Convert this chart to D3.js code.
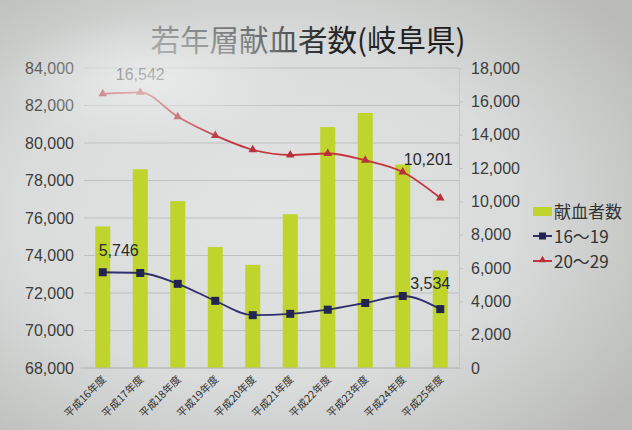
<!DOCTYPE html>
<html><head><meta charset="utf-8">
<script src="https://cdn.jsdelivr.net/npm/d3@7"></script>
<style>
html,body{margin:0;padding:0;background:#d3d6d5;}
svg{display:block;}
</style></head>
<body>
<svg id="c" width="632" height="430"></svg>
<script>
const categories = ["平成16年度","平成17年度","平成18年度","平成19年度","平成20年度","平成21年度","平成22年度","平成23年度","平成24年度","平成25年度"];
const donors = [75550, 78600, 76900, 74450, 73500, 76200, 80850, 81600, 78850, 73200];
const teen = [5746, 5700, 5050, 4030, 3170, 3250, 3500, 3900, 4320, 3534];
const twenties = [16450, 16542, 15080, 13950, 13090, 12780, 12870, 12460, 11760, 10201];
const leftTicks = [68000,70000,72000,74000,76000,78000,80000,82000,84000];
const rightTicks = [0,2000,4000,6000,8000,10000,12000,14000,16000,18000];
const seriesNames = ["献血者数","16～19","20～29"];
const title = "若年層献血者数(岐阜県)";

const svg = d3.select("#c");
const W = 632, H = 430;
const fmt = d3.format(",");
const numFont = "'Liberation Sans', Arial, sans-serif";
const cjkFont = "'Noto Sans CJK JP', sans-serif";

// background (photo-like vignette)
const defs = svg.append("defs");
const bg = defs.append("radialGradient").attr("id","bg").attr("cx","0.42").attr("cy","0.5").attr("r","0.72");
bg.append("stop").attr("offset","0").attr("stop-color","#e1e4e3");
bg.append("stop").attr("offset","0.55").attr("stop-color","#d9dcdb");
bg.append("stop").attr("offset","1").attr("stop-color","#babbb8");
svg.append("rect").attr("width",W).attr("height",H).attr("fill","url(#bg)");

const x = d3.scaleBand().domain(categories).range([84,459]).paddingInner(0.6).paddingOuter(0.3);
const yL = d3.scaleLinear().domain([68000,84000]).range([368,68]);
const yR = d3.scaleLinear().domain([0,18000]).range([368,68]);
const cx = d => x(d) + x.bandwidth()/2;

// gridlines
svg.append("g").selectAll("line").data(leftTicks).join("line")
  .attr("x1",84).attr("x2",459).attr("y1",d=>yL(d)).attr("y2",d=>yL(d))
  .attr("stroke","#bcc0bf").attr("stroke-width",1);

// left axis
const axL = svg.append("g").attr("transform","translate(84,0)")
  .call(d3.axisLeft(yL).tickValues(leftTicks).tickFormat(fmt).tickSize(0).tickPadding(10));
axL.select(".domain").remove();
axL.selectAll("text").attr("font-family",numFont).attr("font-size",16).attr("fill","#3c3c3c");

// right axis
const axR = svg.append("g").attr("transform","translate(459,0)")
  .call(d3.axisRight(yR).tickValues(rightTicks).tickFormat(fmt).tickSize(4).tickPadding(8));
axR.select(".domain").attr("stroke","#c4c7c6");
axR.selectAll(".tick line").attr("stroke","#c4c7c6");
axR.selectAll("text").attr("font-family",numFont).attr("font-size",16).attr("fill","#3c3c3c");

// bars
svg.append("g").selectAll("rect").data(donors).join("rect")
  .attr("x",(d,i)=>x(categories[i])).attr("width",x.bandwidth())
  .attr("y",d=>yL(d)).attr("height",d=>yL(68000)-yL(d))
  .attr("fill","#bfd42c");

// baseline
svg.append("line").attr("x1",80).attr("x2",459).attr("y1",yL(68000)).attr("y2",yL(68000)).attr("stroke","#b4b8b7");

// x labels
svg.append("g").selectAll("text").data(categories).join("text")
  .attr("transform",d=>`translate(${cx(d)+4},${yL(68000)+12}) rotate(-45)`)
  .attr("text-anchor","end").attr("font-family",cjkFont).attr("font-size",10.5)
  .attr("fill","#2e2e2e").text(d=>d);

// lines
const lineT = d3.line().x((d,i)=>cx(categories[i])).y(d=>yR(d)).curve(d3.curveMonotoneX);
svg.append("path").datum(teen).attr("d",lineT).attr("fill","none").attr("stroke","#2e2f6c").attr("stroke-width",1.8);
svg.append("g").selectAll("rect").data(teen).join("rect")
  .attr("x",(d,i)=>cx(categories[i])-4).attr("y",d=>yR(d)-4).attr("width",8).attr("height",8)
  .attr("fill","#23244f");

svg.append("path").datum(twenties).attr("d",lineT).attr("fill","none").attr("stroke","#c3363e").attr("stroke-width",1.8);
const tri = d3.symbol().type(d3.symbolTriangle).size(32);
svg.append("g").selectAll("path").data(twenties).join("path")
  .attr("transform",(d,i)=>`translate(${cx(categories[i])},${yR(d)})`)
  .attr("d",tri).attr("fill","#b8303a");

// data labels
const lab = [
  {v: teen[0], i:0, dx:16, dy:-16},
  {v: teen[9], i:9, dx:-10, dy:-20},
  {v: twenties[1], i:1, dx:0, dy:-12},
  {v: twenties[9], i:9, dx:-12, dy:-33}
];
svg.append("g").selectAll("text").data(lab).join("text")
  .attr("x",d=>cx(categories[d.i])+d.dx).attr("y",d=>yR(d.v)+d.dy)
  .attr("text-anchor","middle").attr("font-family",numFont).attr("font-size",16)
  .attr("fill","#2a2a2a").text(d=>fmt(d.v));

// legend
const lg = svg.append("g").attr("transform","translate(533,0)");
lg.append("rect").attr("x",0).attr("y",207).attr("width",19).attr("height",9).attr("fill","#bfd42c");
lg.append("line").attr("x1",0).attr("x2",19).attr("y1",236).attr("y2",236).attr("stroke","#2e2f6c").attr("stroke-width",2);
lg.append("rect").attr("x",6).attr("y",232.5).attr("width",7).attr("height",7).attr("fill","#23244f");
lg.append("line").attr("x1",0).attr("x2",19).attr("y1",261).attr("y2",261).attr("stroke","#c3363e").attr("stroke-width",2);
lg.append("path").attr("transform","translate(9.5,260)").attr("d",d3.symbol().type(d3.symbolTriangle).size(24)).attr("fill","#b8303a");
lg.selectAll("text.l").data(seriesNames).join("text").attr("class","l")
  .attr("x",21).attr("y",(d,i)=>212+i*25).attr("dy","0.35em")
  .attr("font-family",cjkFont).attr("font-size",17).attr("fill","#333").text(d=>d);

// title (left part washed out by glare in the photo)
const tg = defs.append("linearGradient").attr("id","tg").attr("gradientUnits","userSpaceOnUse")
  .attr("x1",150).attr("y1",0).attr("x2",470).attr("y2",0);
tg.append("stop").attr("offset","0").attr("stop-color","#7a7d7d");
tg.append("stop").attr("offset","0.38").attr("stop-color","#6a6d6d");
tg.append("stop").attr("offset","0.55").attr("stop-color","#262626");
tg.append("stop").attr("offset","1").attr("stop-color","#1e1e1e");
svg.append("text").attr("x",308).attr("y",51).attr("text-anchor","middle")
  .attr("font-family",cjkFont).attr("font-size",29.5).attr("fill","url(#tg)").text(title);

// photo glare at top-left
const gl = defs.append("radialGradient").attr("id","glare").attr("cx","0.5").attr("cy","0.5").attr("r","0.5");
gl.append("stop").attr("offset","0").attr("stop-color","#eef0ef").attr("stop-opacity",0.75);
gl.append("stop").attr("offset","0.6").attr("stop-color","#e8ebea").attr("stop-opacity",0.35);
gl.append("stop").attr("offset","1").attr("stop-color","#e4e7e6").attr("stop-opacity",0);
svg.append("ellipse").attr("cx",150).attr("cy",82).attr("rx",150).attr("ry",68).attr("fill","url(#glare)");
</script>
</body></html>
